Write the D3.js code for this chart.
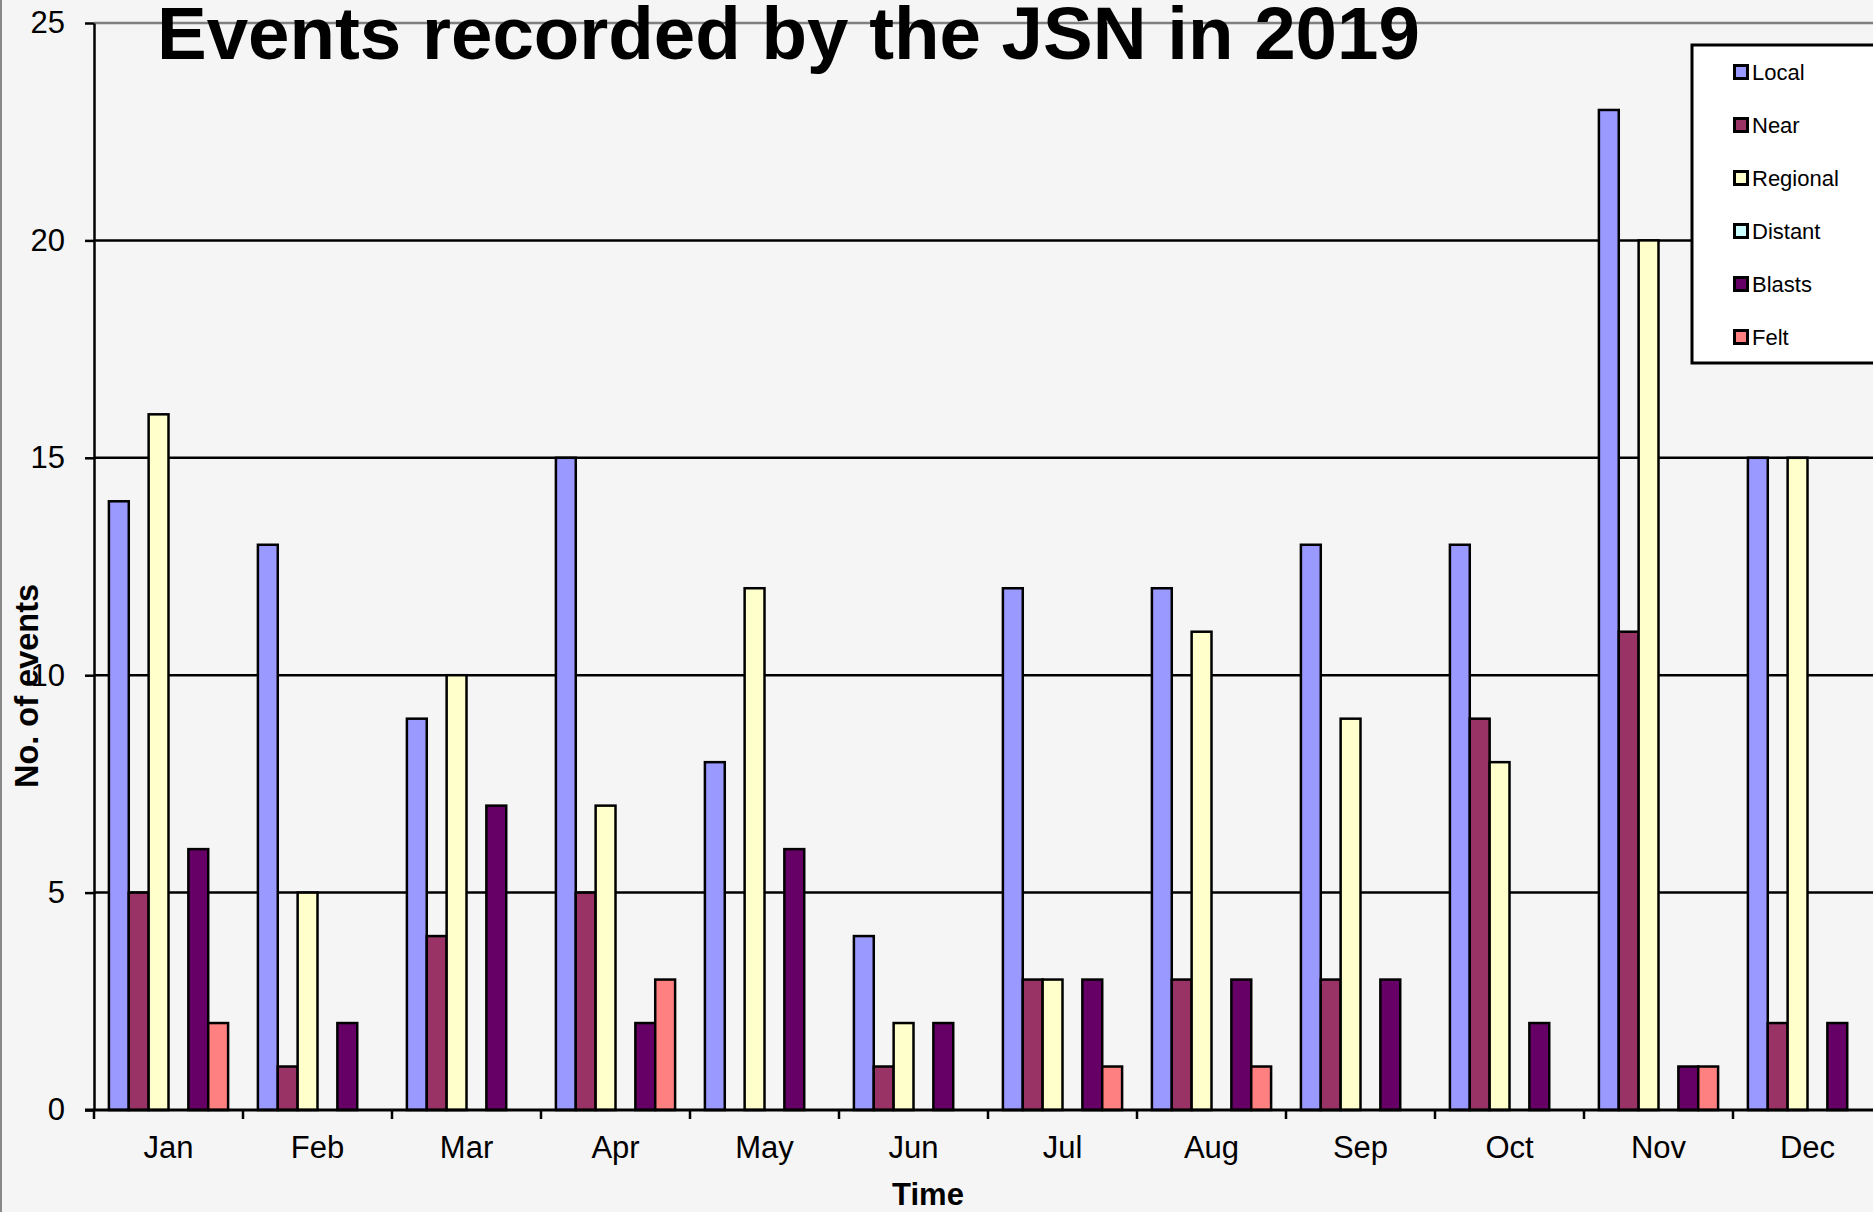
<!DOCTYPE html>
<html>
<head>
<meta charset="utf-8">
<script src="https://cdn.jsdelivr.net/npm/d3@7"></script>
<style>
  body { margin: 0; background: #f5f5f5; }
  svg { display: block; font-family: "Liberation Sans", Arial, sans-serif; }
</style>
</head>
<body>
<div id="root"></div>
<script>
const months = ['Jan', 'Feb', 'Mar', 'Apr', 'May', 'Jun', 'Jul', 'Aug', 'Sep', 'Oct', 'Nov', 'Dec']
const seriesNames = ['Local', 'Near', 'Regional', 'Distant', 'Blasts', 'Felt']
const local    = [14, 13, 9, 15, 8, 4, 12, 12, 13, 13, 23, 15]
const near     = [5, 1, 4, 5, 0, 1, 3, 3, 3, 9, 11, 2]
const regional = [16, 5, 10, 7, 12, 2, 3, 11, 9, 8, 20, 15]
const distant  = [0, 0, 0, 0, 0, 0, 0, 0, 0, 0, 0, 0]
const blasts   = [6, 2, 7, 2, 6, 2, 3, 3, 3, 2, 1, 2]
const felt     = [2, 0, 0, 3, 0, 0, 1, 1, 0, 0, 1, 0]
const yTicks   = [0, 5, 10, 15, 20, 25]

const seriesValues = [local, near, regional, distant, blasts, felt]
const colors = ['#9999ff', '#993366', '#ffffcc', '#ccffff', '#660066', '#ff8080']

const width = 1873
const height = 1212
const plotLeft = 94
const plotTop = 23
const plotBottom = 1110
const plotRight = plotLeft + 12 * 149

const svg = d3.select('#root').append('svg')
  .attr('width', width)
  .attr('height', height)

svg.append('rect')
  .attr('width', width)
  .attr('height', height)
  .attr('fill', '#f5f5f5')

// chart border on the left
svg.append('line')
  .attr('x1', 1).attr('x2', 1)
  .attr('y1', 0).attr('y2', height)
  .attr('stroke', '#888').attr('stroke-width', 2)

const x = d3.scaleBand().domain(months).range([ plotLeft, plotRight ])
const x1 = d3.scaleBand().domain(seriesNames).range([ 0, x.bandwidth() ]).paddingOuter(0.75)
const y = d3.scaleLinear().domain([ 0, 25 ]).range([ plotBottom, plotTop ])

// gridlines
svg.append('g')
  .selectAll('line')
  .data(yTicks.filter(d => d > 0))
  .enter()
  .append('line')
  .attr('x1', plotLeft).attr('x2', width)
  .attr('y1', d => y(d)).attr('y2', d => y(d))
  .attr('stroke', d => d === 25 ? '#808080' : '#000')
  .attr('stroke-width', 2.5)

// bars
const groups = svg.append('g')
  .selectAll('g')
  .data(months)
  .enter()
  .append('g')
  .attr('transform', d => 'translate(' + x(d) + ',0)')

groups.selectAll('rect')
  .data((m, i) => seriesNames.map((s, j) => ({ s, v: seriesValues[j][i], c: colors[j] })).filter(d => d.v > 0))
  .enter()
  .append('rect')
  .attr('x', d => x1(d.s))
  .attr('width', x1.bandwidth())
  .attr('y', d => y(d.v))
  .attr('height', d => y(0) - y(d.v))
  .attr('fill', d => d.c)
  .attr('stroke', '#000')
  .attr('stroke-width', 2.5)

// y axis
const yAxis = svg.append('g')
  .attr('transform', 'translate(' + plotLeft + ',0)')
  .call(d3.axisLeft(y).tickValues(yTicks).tickSize(9).tickSizeOuter(0).tickPadding(20))
yAxis.selectAll('line, path').attr('stroke', '#000').attr('stroke-width', 2.5)
yAxis.selectAll('text').attr('font-size', 31).attr('fill', '#000').attr('font-family', 'Liberation Sans, Arial, sans-serif')

// x axis
const xAxis = svg.append('g')
  .attr('transform', 'translate(0,' + plotBottom + ')')
  .call(d3.axisBottom(x).tickSize(0).tickPadding(26))
xAxis.select('path').remove()
xAxis.selectAll('text').attr('font-size', 31).attr('fill', '#000').attr('font-family', 'Liberation Sans, Arial, sans-serif')

svg.append('line')
  .attr('x1', plotLeft - 9).attr('x2', width)
  .attr('y1', plotBottom).attr('y2', plotBottom)
  .attr('stroke', '#000').attr('stroke-width', 3)

svg.append('g')
  .selectAll('line')
  .data(months)
  .enter()
  .append('line')
  .attr('x1', d => x(d)).attr('x2', d => x(d))
  .attr('y1', plotBottom).attr('y2', plotBottom + 9)
  .attr('stroke', '#000').attr('stroke-width', 2.5)

// axis titles
svg.append('text')
  .attr('x', 928)
  .attr('y', 1205)
  .attr('text-anchor', 'middle')
  .attr('font-size', 31)
  .attr('font-weight', 'bold')
  .text('Time')

svg.append('text')
  .attr('transform', 'translate(38,686) rotate(-90)')
  .attr('text-anchor', 'middle')
  .attr('font-size', 32.5)
  .attr('font-weight', 'bold')
  .text('No. of events')

// title
svg.append('text')
  .attr('x', 157)
  .attr('y', 59)
  .attr('font-size', 74.5)
  .attr('font-weight', 'bold')
  .text('Events recorded by the JSN in 2019')

// legend
svg.append('rect')
  .attr('x', 1692).attr('y', 45)
  .attr('width', 220).attr('height', 318)
  .attr('fill', '#fff')
  .attr('stroke', '#000').attr('stroke-width', 3)

const items = svg.append('g')
  .selectAll('g')
  .data(seriesNames)
  .enter()
  .append('g')
  .attr('transform', (d, i) => 'translate(1733,' + (72 + i * 53) + ')')

items.append('rect')
  .attr('x', 1.5).attr('y', -6.5)
  .attr('width', 13).attr('height', 13)
  .attr('fill', (d, i) => colors[i])
  .attr('stroke', '#000').attr('stroke-width', 3)

items.append('text')
  .attr('x', 19)
  .attr('dy', '0.36em')
  .attr('font-size', 22)
  .text(d => d)
</script>
</body>
</html>
